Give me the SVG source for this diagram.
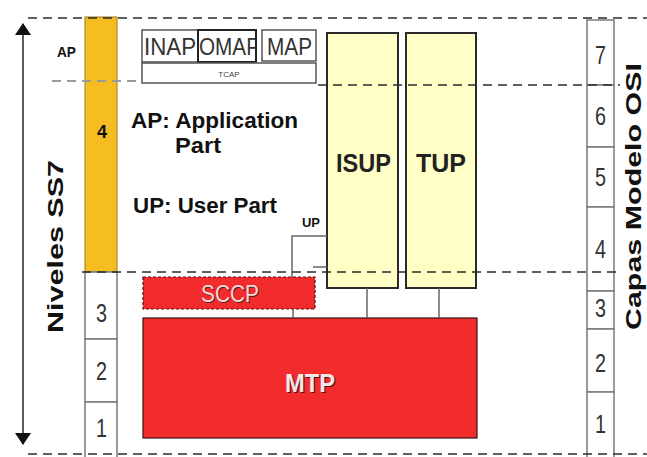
<svg xmlns="http://www.w3.org/2000/svg" width="647" height="457" viewBox="0 0 647 457">
  <style>
    .guide { stroke: #2b2b2b; stroke-width: 1.6; stroke-dasharray: 9 6; fill: none; }
    .guide-grey { stroke: #9a9a9a; stroke-width: 2; stroke-dasharray: 9 6; fill: none; }
    .cell { fill: #ffffff; stroke: #7a7a7a; stroke-width: 1.5; }
    .digit { font-family: "Liberation Sans", Arial, sans-serif; font-size: 26px; fill: #333; }
    .proto { fill: #ffffff; stroke: #555; stroke-width: 1.5; }
    .proto-text { font-family: "Liberation Sans", Arial, sans-serif; font-size: 24px; fill: #333; }
    .user { fill: #ffffc6; stroke: #2a2a2a; stroke-width: 2; }
    .user-text { font-family: "Liberation Sans", Arial, sans-serif; font-weight: bold; font-size: 26px; fill: #222; }
    .red { fill: #f22c2c; }
    .bold { font-family: "Liberation Sans", Arial, sans-serif; font-weight: bold; fill: #111; }
    .link { stroke: #666; stroke-width: 1.5; fill: none; }
    .emboss { font-family: "Liberation Sans", Arial, sans-serif; }
  </style>
  <defs>
    <marker id="arrowBig" viewBox="0 0 12 16" refX="11" refY="8" markerWidth="12" markerHeight="16" markerUnits="userSpaceOnUse" orient="auto-start-reverse">
      <path d="M0,0 L12,8 L0,16 Z" fill="#111"/>
    </marker>
    <clipPath id="omapClip">
      <rect x="198" y="30" width="58" height="32"/>
    </clipPath>
  </defs>

  <rect width="647" height="457" fill="#ffffff"/>

  <!-- SS7 level axis -->
  <g id="axis">
    <line x1="23" y1="24" x2="23" y2="444" stroke="#333" stroke-width="1.6" marker-start="url(#arrowBig)" marker-end="url(#arrowBig)"/>
    <text class="bold" font-size="22" transform="translate(63,333) rotate(-90)" textLength="173" lengthAdjust="spacingAndGlyphs">Niveles  SS7</text>
  </g>

  <!-- SS7 level column -->
  <g id="ss7-levels">
    <rect x="85" y="17" width="32" height="255" fill="#f6bd23" stroke="#a07a18" stroke-width="1"/>
    <text class="bold" font-size="19" x="97" y="138" fill="#333" textLength="10" lengthAdjust="spacingAndGlyphs">4</text>
    <rect class="cell" x="85" y="272" width="32" height="67"/>
    <rect class="cell" x="85" y="339" width="32" height="63"/>
    <rect class="cell" x="85" y="402" width="32" height="58"/>
    <text class="digit" x="96" y="322" textLength="11" lengthAdjust="spacingAndGlyphs">3</text>
    <text class="digit" x="96" y="380" textLength="11" lengthAdjust="spacingAndGlyphs">2</text>
    <text class="digit" x="96" y="437" textLength="11" lengthAdjust="spacingAndGlyphs">1</text>
    <text class="bold" font-size="14" x="57" y="57" textLength="19" lengthAdjust="spacingAndGlyphs">AP</text>
  </g>

  <!-- Application part protocols -->
  <g id="inap">
    <rect class="proto" x="142" y="30" width="56" height="32"/>
    <text class="proto-text" x="144" y="55" textLength="52" lengthAdjust="spacingAndGlyphs">INAP</text>
  </g>
  <g id="omap">
    <text class="proto-text" x="199" y="55" textLength="61" lengthAdjust="spacingAndGlyphs" clip-path="url(#omapClip)">OMAP</text>
    <rect x="198" y="30" width="58" height="32" fill="none" stroke="#222" stroke-width="2"/>
  </g>
  <g id="map">
    <rect class="proto" x="262" y="30" width="54" height="31"/>
    <text class="proto-text" x="267" y="55" textLength="45" lengthAdjust="spacingAndGlyphs">MAP</text>
  </g>
  <g id="tcap">
    <rect class="proto" x="142" y="63" width="174" height="20" stroke-width="2"/>
    <text x="229" y="77" font-family="Liberation Sans, Arial, sans-serif" font-size="8" text-anchor="middle" fill="#444">TCAP</text>
  </g>

  <!-- Legend -->
  <g id="legend">
    <text class="bold" font-size="22" x="131" y="128" textLength="167" lengthAdjust="spacingAndGlyphs">AP: Application</text>
    <text class="bold" font-size="22" x="175" y="153" textLength="46" lengthAdjust="spacingAndGlyphs">Part</text>
    <text class="bold" font-size="22" x="133" y="213" textLength="144" lengthAdjust="spacingAndGlyphs">UP: User Part</text>
  </g>

  <!-- User parts -->
  <g id="isup">
    <rect class="user" x="327" y="33" width="71" height="255"/>
    <text class="user-text" x="336" y="172" textLength="55" lengthAdjust="spacingAndGlyphs">ISUP</text>
  </g>
  <g id="tup">
    <rect class="user" x="406" y="33" width="70" height="255"/>
    <text class="user-text" x="416" y="172" textLength="50" lengthAdjust="spacingAndGlyphs">TUP</text>
  </g>

  <!-- SCCP and MTP -->
  <g id="sccp">
    <rect class="red" x="143" y="277" width="172" height="32" stroke="#5a1010" stroke-width="1.2" stroke-dasharray="3 2"/>
    <text class="emboss" x="201" y="302" font-size="23" fill="#5a1a1a" dx="0.8" dy="0.8" textLength="58" lengthAdjust="spacingAndGlyphs">SCCP</text>
    <text class="emboss" x="201" y="302" font-size="23" fill="#f6d6d6" textLength="58" lengthAdjust="spacingAndGlyphs">SCCP</text>
  </g>
  <g id="mtp">
    <rect class="red" x="143" y="318" width="334" height="120" stroke="#3a1010" stroke-width="1.2"/>
    <text class="emboss" x="285" y="392" font-size="26" font-weight="bold" fill="#4a1010" dx="1" dy="1" textLength="50" lengthAdjust="spacingAndGlyphs">MTP</text>
    <text class="emboss" x="285" y="392" font-size="26" font-weight="bold" fill="#f2e6e6" textLength="50" lengthAdjust="spacingAndGlyphs">MTP</text>
  </g>

  <!-- Connectors between layers -->
  <g id="connectors">
    <line class="link" x1="367" y1="288" x2="367" y2="318"/>
    <line class="link" x1="439" y1="288" x2="439" y2="318"/>
    <line class="link" x1="293" y1="309" x2="293" y2="318"/>
    <polyline class="link" points="292,277 292,236 327,236"/>
    <line class="link" x1="313" y1="267" x2="327" y2="267"/>
    <text class="bold" font-size="13" x="302" y="227" fill="#333" textLength="18" lengthAdjust="spacingAndGlyphs">UP</text>
  </g>

  <!-- OSI layer column -->
  <g id="osi-layers">
    <rect class="cell" x="587" y="20" width="27" height="65"/>
    <rect class="cell" x="587" y="85" width="27" height="62"/>
    <rect class="cell" x="587" y="147" width="27" height="60"/>
    <rect class="cell" x="587" y="207" width="27" height="84"/>
    <rect class="cell" x="587" y="291" width="27" height="38"/>
    <rect class="cell" x="587" y="329" width="27" height="63"/>
    <rect class="cell" x="587" y="392" width="27" height="68"/>
    <text class="digit" x="595" y="64" textLength="11" lengthAdjust="spacingAndGlyphs">7</text>
    <text class="digit" x="595" y="125" textLength="11" lengthAdjust="spacingAndGlyphs">6</text>
    <text class="digit" x="595" y="186" textLength="11" lengthAdjust="spacingAndGlyphs">5</text>
    <text class="digit" x="595" y="258" textLength="11" lengthAdjust="spacingAndGlyphs">4</text>
    <text class="digit" x="595" y="317" textLength="11" lengthAdjust="spacingAndGlyphs">3</text>
    <text class="digit" x="595" y="372" textLength="11" lengthAdjust="spacingAndGlyphs">2</text>
    <text class="digit" x="595" y="433" textLength="11" lengthAdjust="spacingAndGlyphs">1</text>
    <text class="bold" font-size="22" transform="translate(641,330) rotate(-90)" textLength="267" lengthAdjust="spacingAndGlyphs">Capas Modelo OSI</text>
  </g>

  <!-- Layer boundary guides -->
  <g id="guides">
    <line class="guide" x1="28" y1="18" x2="647" y2="18"/>
    <line class="guide-grey" x1="52" y1="81" x2="140" y2="81"/>
    <line class="guide" x1="318" y1="85" x2="620" y2="85"/>
    <line class="guide" x1="82" y1="272" x2="620" y2="272"/>
    <line class="guide" x1="28" y1="454" x2="647" y2="454"/>
  </g>
</svg>
